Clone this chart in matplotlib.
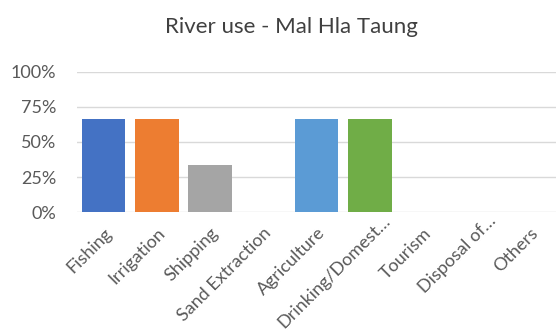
import matplotlib
matplotlib.use("Agg")
import matplotlib.pyplot as plt
import matplotlib.ticker as mticker
from matplotlib.transforms import ScaledTranslation

categories = ["Fishing", "Irrigation", "Shipping", "Sand Extraction", "Agriculture",
              "Drinking/Domest\u2026", "Tourism", "Disposal of\u2026", "Others"]
values = [0.667, 0.667, 0.333, 0, 0.667, 0.667, 0, 0, 0]
colors = ["#4472C4", "#ED7D31", "#A5A5A5", "#FFC000", "#5B9BD5",
          "#70AD47", "#264478", "#9E480E", "#636363"]

plt.rcParams["font.family"] = ["Lato", "DejaVu Sans"]

fig = plt.figure(figsize=(5.56, 3.31), dpi=100)
ax = fig.add_axes([0.1385, 0.3595, 0.862, 0.423])

x = list(range(len(categories)))
ax.bar(x, values, width=0.82, color=colors, edgecolor="none", zorder=3)

ax.set_xlim(-0.5, len(categories) - 0.5)
ax.set_ylim(0, 1)
ax.yaxis.set_major_locator(mticker.MultipleLocator(0.25))
ax.yaxis.set_major_formatter(mticker.PercentFormatter(1.0, decimals=0))
ax.grid(axis="y", color="#D9D9D9", linewidth=1, zorder=0)

for s in ax.spines.values():
    s.set_visible(False)
ax.tick_params(axis="both", length=0, labelsize=13, colors="#595959")
ax.tick_params(axis="y", pad=15)
ax.set_xticks(x)
ax.set_xticklabels([])

# rotated category labels, excel-style; truncated ones sit a bit further out
for xi, lab in zip(x, categories):
    dx, dy = 9, -22
    if lab.endswith("\u2026"):
        dx, dy = dx + 12, dy + 12
    off = ScaledTranslation(dx / 100, dy / 100, fig.dpi_scale_trans)
    ax.text(xi, 0, lab, transform=ax.get_xaxis_transform() + off,
            rotation=45, rotation_mode="anchor", ha="right", va="baseline",
            fontsize=13, color="#595959", clip_on=False)

fig.text(0.525, 0.90, "River use - Mal Hla Taung", ha="center", va="baseline",
         fontsize=16, color="#404040")

fig.savefig("out.png", dpi=100, facecolor="white")
